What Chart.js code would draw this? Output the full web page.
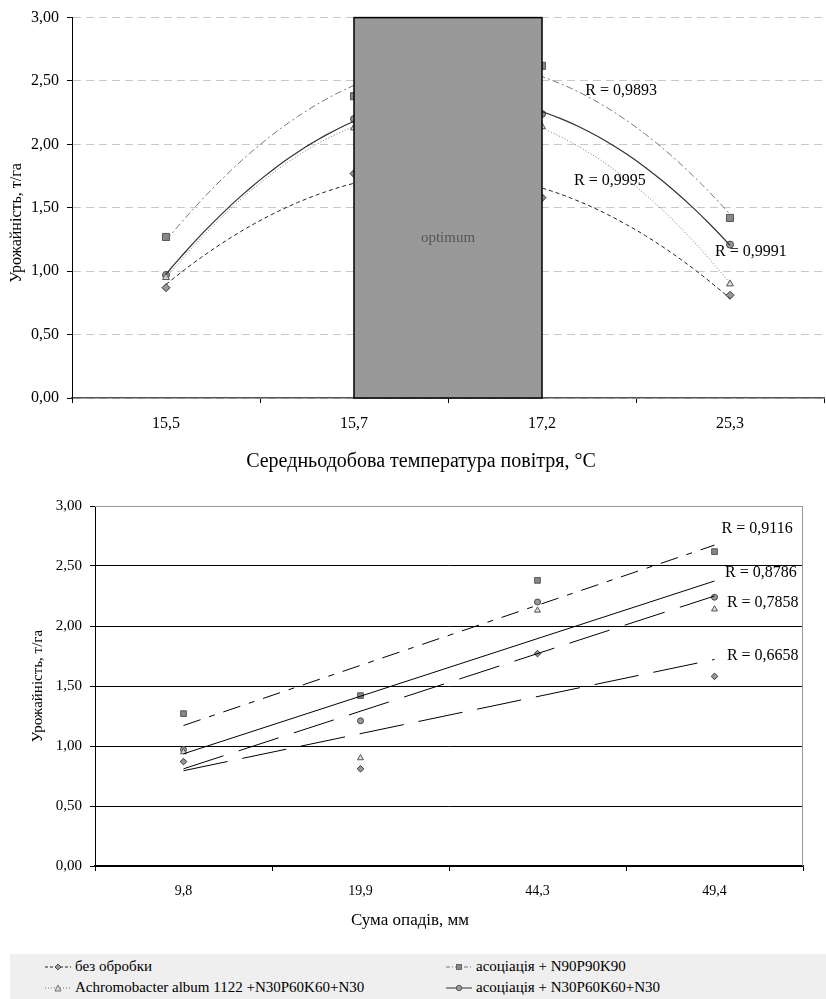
<!DOCTYPE html>
<html>
<head>
<meta charset="utf-8">
<script src="https://cdn.jsdelivr.net/npm/chart.js@4.4.1/dist/chart.umd.min.js"></script>
<style>
  body { margin: 0; background: #fff; overflow: hidden; font-family: "Liberation Serif", "Times New Roman", serif; }
  #topBox { position: absolute; left: 0; top: 0; width: 830px; height: 480px; }
  #bottomBox { position: absolute; left: 0; top: 480px; width: 826px; height: 474px; }
  #legend { position: absolute; left: 10px; top: 954px; width: 816px; height: 45px; background: #efefef; font-size: 15px; color: #000; }
  .item { position: absolute; display: flex; align-items: center; white-space: nowrap; height: 17px; }
  .item svg { margin-right: 4px; }
</style>
</head>
<body>
<div id="topBox"><canvas id="tempChart"></canvas></div>
<div id="bottomBox"><canvas id="rainChart"></canvas></div>
<div id="legend"></div>

<script>
// categories
var tempLabels = ["15,5", "15,7", "17,2", "25,3"];
var rainLabels = ["9,8", "19,9", "44,3", "49,4"];
var seriesNames = ["без обробки", "асоціація + N90P90K90", "Achromobacter album 1122 +N30P60K60+N30", "асоціація + N30P60K60+N30"];

// yields, t/ha, in temperature order
var noTreat = [0.87, 1.77, 1.58, 0.81];
var assoc90 = [1.27, 2.38, 2.62, 1.42];
var achromo = [0.95, 2.13, 2.14, 0.90];
var assoc30 = [0.97, 2.20, 2.24, 1.21];

// same yields, in precipitation order
var noTreatRain = [0.87, 0.81, 1.77, 1.58];
var assoc90Rain = [1.27, 1.42, 2.38, 2.62];
var achromoRain = [0.95, 0.90, 2.13, 2.14];
var assoc30Rain = [0.97, 1.21, 2.20, 2.24];

var yTickLabels = ["0,00", "0,50", "1,00", "1,50", "2,00", "2,50", "3,00"];
var rTop = ["R = 0,9893", "R = 0,9995", "R = 0,9991"];
var rBottom = ["R = 0,9116", "R = 0,8786", "R = 0,7858", "R = 0,6658"];
var optimumRange = [2, 3]; // from 15,7 to 17,2

var serif = "'Liberation Serif', 'Times New Roman', serif";

// least squares fit on category index 1..n
function fitTrend(vals, degree) {
    var n = vals.length, xs = [], i;
    for (i = 0; i < n; i++) xs.push(i + 1);
    var m = degree + 1, A = [], b = [];
    for (var r = 0; r < m; r++) {
        A.push([]);
        b.push(0);
        for (var c = 0; c < m; c++) {
            var s = 0;
            for (i = 0; i < n; i++) s += Math.pow(xs[i], r + c);
            A[r].push(s);
        }
        for (i = 0; i < n; i++) b[r] += vals[i] * Math.pow(xs[i], r);
    }
    // gauss elimination
    for (var k = 0; k < m; k++) {
        for (var j = k + 1; j < m; j++) {
            var f = A[j][k] / A[k][k];
            for (var q = k; q < m; q++) A[j][q] -= f * A[k][q];
            b[j] -= f * b[k];
        }
    }
    var coef = new Array(m);
    for (k = m - 1; k >= 0; k--) {
        var t = b[k];
        for (q = k + 1; q < m; q++) t -= A[k][q] * coef[q];
        coef[k] = t / A[k][k];
    }
    var pts = [];
    var steps = degree === 1 ? 1 : 60;
    for (i = 0; i <= steps; i++) {
        var x = 1 + (n - 1) * i / steps, y = 0;
        for (k = 0; k < m; k++) y += coef[k] * Math.pow(x, k);
        pts.push({ x: x, y: y });
    }
    return pts;
}

function markers(label, data, style, radius, fill, stroke) {
    return {
        type: "line", label: label, data: data, xAxisID: "x", showLine: false,
        pointStyle: style, pointRadius: radius, pointBackgroundColor: fill,
        pointBorderColor: stroke, pointBorderWidth: 1
    };
}

function trend(data, color, dash, width) {
    return {
        type: "line", data: data, xAxisID: "xl", borderColor: color, borderWidth: width || 1,
        borderDash: dash, pointRadius: 0, tension: 0, fill: false
    };
}

function yAxis(fontSize, width, gridColor, gridDash, titleSize, titlePad, showTitle) {
    return {
        min: 0, max: 3,
        afterFit: function (s) { s.width = width; },
        afterBuildTicks: function (s) {
            s.ticks = yTickLabels.map(function (t, i) { return { value: i * 0.5 }; });
        },
        ticks: {
            color: "#000", padding: 8, font: { family: serif, size: fontSize },
            callback: function (v, i) { return yTickLabels[i]; }
        },
        grid: {
            color: gridColor, tickLength: 5, tickColor: "#000",
            tickBorderDash: [], lineWidth: 1
        },
        border: { color: "#000", width: 1, dash: gridDash },
        title: {
            display: showTitle, text: "Урожайність, т/га", color: "#000",
            font: { family: serif, size: titleSize }, padding: { top: titlePad, bottom: 0 }
        }
    };
}

function textLabel(chart, text, x, y, font, color) {
    var ctx = chart.ctx;
    ctx.save();
    ctx.font = font;
    ctx.fillStyle = color;
    ctx.textBaseline = "middle";
    ctx.fillText(text, chart.scales.xl.getPixelForValue(x), chart.scales.y.getPixelForValue(y));
    ctx.restore();
}

// axis titles are centred on the whole chart object, as in the original
function centredTitle(chart, text, x, y, size, rotate) {
    var ctx = chart.ctx;
    ctx.save();
    ctx.fillStyle = "#000";
    ctx.textAlign = "center";
    ctx.textBaseline = "middle";
    ctx.font = size + "px " + serif;
    ctx.translate(x, y);
    if (rotate) ctx.rotate(-Math.PI / 2);
    ctx.fillText(text, 0, 0);
    ctx.restore();
}

var optimumPlugin = {
    id: "optimum",
    afterDatasetsDraw: function (chart) {
        var ctx = chart.ctx, xs = chart.scales.xl, ys = chart.scales.y;
        var x0 = xs.getPixelForValue(optimumRange[0]), x1 = xs.getPixelForValue(optimumRange[1]);
        var y0 = ys.getPixelForValue(3), y1 = ys.getPixelForValue(0);
        ctx.save();
        ctx.fillStyle = "#999999";
        ctx.fillRect(x0, y0, x1 - x0, y1 - y0);
        ctx.strokeStyle = "#000";
        ctx.lineWidth = 1.5;
        ctx.strokeRect(x0, y0, x1 - x0, y1 - y0);
        ctx.fillStyle = "#555";
        ctx.font = "15px " + serif;
        ctx.textAlign = "center";
        ctx.textBaseline = "middle";
        ctx.fillText("optimum", (x0 + x1) / 2, ys.getPixelForValue(1.265));
        ctx.restore();
        var f = "16px " + serif;
        textLabel(chart, rTop[0], 3.23, 2.42, f, "#000");
        textLabel(chart, rTop[1], 3.17, 1.71, f, "#000");
        textLabel(chart, rTop[2], 3.92, 1.155, f, "#000");
    },
    afterDraw: function (chart) {
        centredTitle(chart, "Середньодобова температура повітря, °C", 421, 462, 20, false);
        centredTitle(chart, "Урожайність, т/га", 17, 223, 16, true);
    }
};

var rainPlugin = {
    id: "rainExtras",
    beforeDatasetsDraw: function (chart) {
        var a = chart.chartArea, ctx = chart.ctx;
        ctx.save();
        ctx.strokeStyle = "#999";
        ctx.lineWidth = 1;
        ctx.beginPath();
        ctx.moveTo(a.left, a.top + 0.5);
        ctx.lineTo(a.right - 0.5, a.top + 0.5);
        ctx.lineTo(a.right - 0.5, a.bottom);
        ctx.stroke();
        ctx.restore();
    },
    afterDatasetsDraw: function (chart) {
        var f = "16px " + serif;
        textLabel(chart, rBottom[0], 4.04, 2.81, f, "#000");
        textLabel(chart, rBottom[1], 4.06, 2.44, f, "#000");
        textLabel(chart, rBottom[2], 4.07, 2.19, f, "#000");
        textLabel(chart, rBottom[3], 4.07, 1.75, f, "#000");
    },
    afterDraw: function (chart) {
        centredTitle(chart, "Сума опадів, мм", 410, 441, 17, false);
    }
};

// top chart: yield vs mean daily air temperature
new Chart(document.getElementById("tempChart"), {
    type: "line",
    data: {
        labels: tempLabels,
        datasets: [
            trend(fitTrend(noTreat, 2), "#222", [4, 3]),
            trend(fitTrend(assoc90, 2), "#777", [7, 3, 2, 3]),
            trend(fitTrend(achromo, 2), "#777", [1, 2]),
            trend(fitTrend(assoc30, 2), "#333", [], 1.2),
            markers(seriesNames[0], noTreat, "rectRot", 4, "#999", "#333"),
            markers(seriesNames[1], assoc90, "rect", 5, "#888", "#555"),
            markers(seriesNames[2], achromo, "triangle", 4, "#ddd", "#555"),
            markers(seriesNames[3], assoc30, "circle", 3.5, "#999", "#444")
        ]
    },
    options: {
        responsive: true, maintainAspectRatio: false, animation: false,
        layout: { padding: { top: 16, left: 0, right: 2, bottom: 0 } },
        plugins: { legend: { display: false }, tooltip: { enabled: false } },
        scales: {
            x: {
                type: "category", offset: true,
                afterFit: function (s) { s.height = 82; },
                ticks: { color: "#000", padding: 11, maxRotation: 0, font: { family: serif, size: 16 } },
                grid: { offset: true, drawOnChartArea: false, tickLength: 5, color: "#000" },
                border: { color: "#555", width: 1.5 }
            },
            xl: { type: "linear", min: 0.5, max: 4.5, display: false },
            y: yAxis(16, 72, "#c8c8c8", [8, 5], 16, 8, false)
        }
    },
    plugins: [optimumPlugin]
});

// bottom chart: yield vs sum of precipitation
new Chart(document.getElementById("rainChart"), {
    type: "line",
    data: {
        labels: rainLabels,
        datasets: [
            trend(fitTrend(assoc90Rain, 1), "#000", [18, 9, 6, 9]),
            trend(fitTrend(assoc30Rain, 1), "#000", []),
            trend(fitTrend(achromoRain, 1), "#000", [42, 16]),
            trend(fitTrend(noTreatRain, 1), "#000", [45, 15]),
            markers(seriesNames[0], noTreatRain, "rectRot", 3.3, "#999", "#333"),
            markers(seriesNames[1], assoc90Rain, "rect", 4, "#888", "#555"),
            markers(seriesNames[2], achromoRain, "triangle", 3.5, "#ddd", "#555"),
            markers(seriesNames[3], assoc30Rain, "circle", 3, "#999", "#444")
        ]
    },
    options: {
        responsive: true, maintainAspectRatio: false, animation: false,
        layout: { padding: { top: 26, left: 0, right: 23, bottom: 0 } },
        plugins: { legend: { display: false }, tooltip: { enabled: false } },
        scales: {
            x: {
                type: "category", offset: true,
                afterFit: function (s) { s.height = 88; },
                ticks: { color: "#000", padding: 12, maxRotation: 0, font: { family: serif, size: 14 } },
                grid: { offset: true, drawOnChartArea: false, tickLength: 5, color: "#000" },
                border: { color: "#000", width: 1.5 }
            },
            xl: { type: "linear", min: 0.5, max: 4.5, display: false },
            y: (function () {
                var y = yAxis(15, 95, "#000", [], 15, 29, true);
                y.grid.color = function (c) { return c.tick && c.tick.value === 3 ? "#999" : "#000"; };
                return y;
            })()
        }
    },
    plugins: [rainPlugin]
});

// legend shared by both charts
var legendSpecs = [
    { name: seriesNames[0], dash: "3,2", color: "#222", marker: "diamond", left: 35, top: 4 },
    { name: seriesNames[1], dash: "4,2,1,2", color: "#777", marker: "square", left: 436, top: 4 },
    { name: seriesNames[2], dash: "1,2", color: "#777", marker: "triangle", left: 35, top: 25 },
    { name: seriesNames[3], dash: "", color: "#333", marker: "circle", left: 436, top: 25 }
];
var legendEl = document.getElementById("legend");
legendSpecs.forEach(function (s) {
    var mk;
    if (s.marker === "diamond") mk = '<path d="M13 2 L16 5 L13 8 L10 5 Z" fill="#999" stroke="#333" stroke-width="0.8"/>';
    else if (s.marker === "square") mk = '<rect x="10.5" y="2.5" width="5" height="5" fill="#888" stroke="#555" stroke-width="0.8"/>';
    else if (s.marker === "triangle") mk = '<path d="M13 2 L16 8 L10 8 Z" fill="#ddd" stroke="#555" stroke-width="0.8"/>';
    else mk = '<circle cx="13" cy="5" r="2.7" fill="#999" stroke="#444" stroke-width="0.8"/>';
    var div = document.createElement("div");
    div.className = "item";
    div.style.left = s.left + "px";
    div.style.top = s.top + "px";
    div.innerHTML = '<svg width="26" height="10"><line x1="0" y1="5" x2="26" y2="5" stroke="' + s.color +
        '" stroke-width="1" stroke-dasharray="' + s.dash + '"/>' + mk + '</svg><span>' + s.name + '</span>';
    legendEl.appendChild(div);
});
</script>
</body>
</html>
